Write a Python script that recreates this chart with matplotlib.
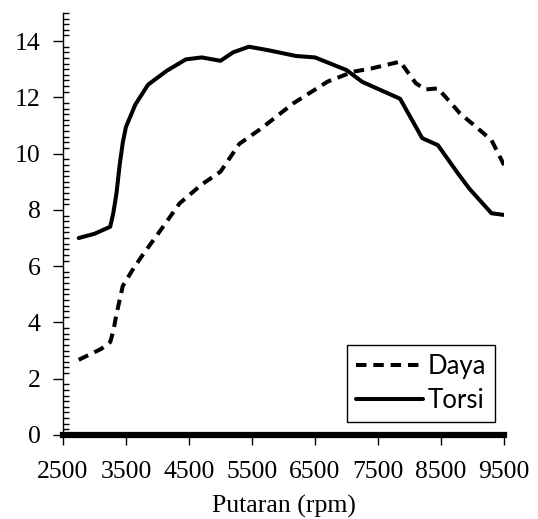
import numpy as np
import matplotlib
matplotlib.use("Agg")
import matplotlib.pyplot as plt
from matplotlib.ticker import MultipleLocator

# data (rpm vs value)
torsi_rpm = [2750, 3000, 3100, 3250, 3300, 3350, 3400, 3450, 3500, 3650, 3850, 4150,
             4450, 4700, 5000, 5200, 5450, 5750, 6200, 6500, 7000, 7250, 7750, 7850,
             8200, 8450, 8750, 8950, 9300, 9500]
torsi = [7.0, 7.15, 7.25, 7.4, 7.9, 8.6, 9.6, 10.4, 10.95, 11.75, 12.45, 12.95,
         13.35, 13.42, 13.3, 13.6, 13.8, 13.68, 13.47, 13.42, 12.97, 12.55, 12.05, 11.95,
         10.55, 10.3, 9.35, 8.75, 7.88, 7.82]

daya_rpm = [2750, 3100, 3250, 3300, 3350, 3450, 3600, 3750, 4050, 4350, 4700, 5000,
            5300, 5650, 6150, 6700, 7100, 7400, 7850, 8100, 8250, 8450, 8800, 9050,
            9300, 9500]
daya = [2.67, 3.05, 3.3, 3.7, 4.3, 5.3, 5.85, 6.35, 7.28, 8.23, 8.9, 9.36,
        10.35, 10.9, 11.78, 12.56, 12.91, 13.03, 13.27, 12.5, 12.28, 12.32, 11.43, 10.96,
        10.48, 9.59]

x_ticks = [2500, 3500, 4500, 5500, 6500, 7500, 8500, 9500]
y_ticks = [0, 2, 4, 6, 8, 10, 12, 14]

plt.rcParams["font.family"] = ["Liberation Serif"]

fig = plt.figure(figsize=(5.38, 5.19), dpi=100)
ax = fig.add_axes([0.117, 0.162, 0.820, 0.813])

ax.plot(daya_rpm, daya, color="black", linewidth=2.9, linestyle=(0, (2.6, 1.7)),
        label="Daya")
ax.plot(torsi_rpm, torsi, color="black", linewidth=2.9, solid_capstyle="round",
        solid_joinstyle="round", label="Torsi")

ax.set_xlim(2500, 9500)
ax.set_ylim(0, 15)
ax.set_xticks(x_ticks)
ax.set_yticks(y_ticks)
ax.yaxis.set_minor_locator(MultipleLocator(0.2))

for s in ["top", "right"]:
    ax.spines[s].set_visible(False)
ax.spines["bottom"].set_linewidth(4.5)
ax.spines["left"].set_linewidth(1.0)

ax.tick_params(axis="both", which="major", direction="out", length=7, width=1,
               labelsize=18.5, color="black")
ax.tick_params(axis="y", which="minor", direction="in", length=4, width=1)
ax.tick_params(axis="x", which="major", pad=12)
ax.tick_params(axis="y", which="major", pad=9)

ax.set_xlabel("Putaran (rpm)", fontsize=18.5, labelpad=8)

leg = ax.legend(loc="lower right", bbox_to_anchor=(0.98, 0.03), fancybox=False,
                edgecolor="black", framealpha=1, handlelength=2.6,
                prop={"family": "Lato", "size": 18.5}, borderaxespad=0,
                handletextpad=0.2, labelspacing=0.35, borderpad=0.35)
leg.get_frame().set_linewidth(1.0)

fig.savefig("out.png", dpi=100)
